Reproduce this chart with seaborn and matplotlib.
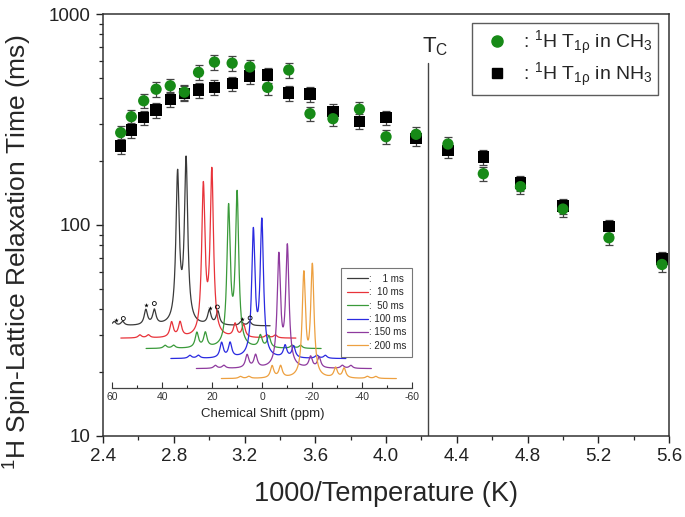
import numpy as np
import pandas as pd
import matplotlib
matplotlib.use("Agg")
import matplotlib.pyplot as plt
from matplotlib.ticker import MultipleLocator, FixedLocator, NullFormatter
from matplotlib.lines import Line2D
import seaborn as sns

# 1000/T (K^-1) for the measured temperatures
INV_T = [2.50, 2.56, 2.63, 2.70, 2.78, 2.86, 2.94, 3.03, 3.13, 3.23, 3.33, 3.45,
         3.57, 3.70, 3.85, 4.00, 4.17, 4.35, 4.55, 4.76, 5.00, 5.26, 5.56]

# 1H T1rho (ms)
T1_CH3 = [274, 326, 388, 440, 457, 426, 529, 592, 585, 561, 449, 543,
          337, 319, 354, 262, 269, 242, 175, 152, 119, 87, 65]
T1_NH3 = [237, 282, 323, 351, 394, 421, 436, 449, 467, 508, 514, 422,
          418, 346, 310, 322, 258, 225, 210, 158, 123, 98, 69]
REL_ERR = 0.08
TC = 4.24

# inset: 13C spectra at different contact times
SPEC_LABELS = ["1 ms", "10 ms", "50 ms", "100 ms", "150 ms", "200 ms"]
SPEC_COLORS = ["#3a3a3a", "#e8333a", "#3a9a3a", "#2a2ae0", "#8e3a9e", "#eda040"]
MAIN_PEAKS = [33.9, 30.5]            # ppm of the doublet in the 1 ms trace
SIDEBAND_STEP = 12.7                 # ppm
TRACE_SHIFT = [0.0, -10.3, -20.4, -30.3, -40.5, -50.5]
TRACE_BASE = [62.0, 49.7, 39.3, 29.3, 19.3, 9.3]
HEIGHT_L = [148, 148, 137, 124, 110, 102]
HEIGHT_R = [162, 163, 151, 134, 119, 110]
SB1_L = [15, 15, 15, 15, 13, 12]
SB1_R = [14, 13, 12, 12, 11, 10]
SB2 = [4, 3, 3, 3, 3, 2]
SPAN = (33.0, -37.0)                 # trace extent relative to the left main peak
WIDTH = 0.8                          # Lorentzian HWHM (ppm)


def build_spectra():
    rows = []
    for k, lab in enumerate(SPEC_LABELS):
        p1 = MAIN_PEAKS[0] + TRACE_SHIFT[k]
        p2 = MAIN_PEAKS[1] + TRACE_SHIFT[k]
        lo, hi = p1 + SPAN[1], min(p1 + SPAN[0], 60.0)
        ppm = np.linspace(hi, lo, 1600)
        peaks = [(p1, HEIGHT_L[k]), (p2, HEIGHT_R[k])]
        for sgn, h1 in ((1, SB1_L[k]), (-1, SB1_R[k])):
            peaks += [(p1 + sgn * SIDEBAND_STEP, h1), (p2 + sgn * SIDEBAND_STEP, h1 * 0.97)]
            peaks += [(p1 + sgn * 2 * SIDEBAND_STEP, SB2[k]), (p2 + sgn * 2 * SIDEBAND_STEP, SB2[k])]
        y = np.full_like(ppm, TRACE_BASE[k])
        for c, h in peaks:
            y += h / (1 + ((ppm - c) / WIDTH) ** 2)
        rows.append(pd.DataFrame({"ppm": ppm, "intensity": y, "trace": lab}))
    return pd.concat(rows, ignore_index=True)


sns.set_theme(style="ticks")
plt.rcParams["font.family"] = ["Liberation Sans", "DejaVu Sans"]
plt.rcParams["mathtext.fontset"] = "custom"
plt.rcParams["mathtext.rm"] = "Liberation Sans"
plt.rcParams["mathtext.it"] = "Liberation Sans:italic"
plt.rcParams["mathtext.default"] = "regular"

fig = plt.figure(figsize=(6.85, 5.17), dpi=100)
ax = fig.add_axes([0.1504, 0.1567, 0.8263, 0.8162])

df = pd.DataFrame({"x": INV_T * 2,
                   "T1": T1_NH3 + T1_CH3,
                   "site": ["NH3"] * len(INV_T) + ["CH3"] * len(INV_T)})

for vals in (T1_NH3, T1_CH3):
    v = np.array(vals, dtype=float)
    ax.errorbar(INV_T, v, yerr=v * REL_ERR, fmt="none", ecolor="#444444",
                elinewidth=0.9, capsize=3, capthick=0.9, zorder=2)

sns.scatterplot(data=df, x="x", y="T1", hue="site", style="site",
                markers={"NH3": "s", "CH3": "o"},
                palette={"NH3": "black", "CH3": "#178a17"},
                s=66, linewidth=0, legend=False, ax=ax, zorder=3)

ax.set_yscale("log")
ax.set_ylim(10, 1000)
ax.set_xlim(2.4, 5.6)
ax.xaxis.set_major_locator(MultipleLocator(0.4))
ax.xaxis.set_minor_locator(MultipleLocator(0.2))
ax.xaxis.set_major_formatter(plt.FuncFormatter(lambda v, p: f"{v:.1f}"))
ax.yaxis.set_major_locator(FixedLocator([10, 100, 1000]))
ax.yaxis.set_major_formatter(plt.FuncFormatter(lambda v, p: f"{v:.0f}"))
ax.yaxis.set_minor_formatter(NullFormatter())
ax.tick_params(which="major", direction="out", length=5, width=1, labelsize=13.5,
               colors="#222222", pad=4)
ax.tick_params(which="minor", direction="out", length=3, width=0.9)
for sp in ax.spines.values():
    sp.set_color("#333333")
    sp.set_linewidth(1.1)

ax.set_xlabel("1000/Temperature (K)", fontsize=19.5, labelpad=11)
ax.set_ylabel("$^{1}$H Spin-Lattice Relaxation Time (ms)", fontsize=19)
ax.yaxis.set_label_coords(-0.122, 0.436)

ax.axvline(TC, ymin=0, ymax=0.884, color="#444444", lw=1)
ax.text(TC - 0.035, 700, "T$_C$", fontsize=16, ha="left", va="center")

handles = [Line2D([], [], ls="none", marker="o", color="#178a17", ms=8),
           Line2D([], [], ls="none", marker="s", color="black", ms=7)]
labels = [": $^{1}$H T$_{1\\rho}$ in CH$_3$", ": $^{1}$H T$_{1\\rho}$ in NH$_3$"]
leg = ax.legend(handles, labels, loc="upper right", fontsize=14, frameon=True,
                fancybox=False, edgecolor="#333333", borderaxespad=0,
                handletextpad=0.3, labelspacing=0.2, borderpad=0.3,
                bbox_to_anchor=(0.981, 0.979))
leg.get_frame().set_linewidth(1.0)

# inset spectra
ins = fig.add_axes([0.164, 0.2495, 0.438, 0.4642], facecolor="none")
spec = build_spectra()
sns.lineplot(data=spec, x="ppm", y="intensity", hue="trace", hue_order=SPEC_LABELS,
             palette=SPEC_COLORS, sort=False, estimator=None, lw=0.9, ax=ins)
ins.set_xlim(60, -60)
ins.set_ylim(0, 240)
for side in ("top", "right", "left"):
    ins.spines[side].set_visible(False)
ins.spines["bottom"].set_color("#444444")
ins.spines["bottom"].set_linewidth(0.9)
ins.set_yticks([])
ins.set_ylabel("")
ins.xaxis.set_major_locator(MultipleLocator(20))
ins.xaxis.set_minor_locator(MultipleLocator(10))
ins.xaxis.set_major_formatter(plt.FuncFormatter(lambda v, p: f"{v:.0f}"))
ins.tick_params(axis="x", which="major", direction="in", length=4, width=0.8,
                labelsize=7.5, pad=3, colors="#333333")
ins.tick_params(axis="x", which="minor", direction="in", length=2.5, width=0.8)
ins.set_xlabel("Chemical Shift (ppm)", fontsize=9.5, labelpad=4)

# sideband markers on the 1 ms trace
star_ppm = [58.5, 46.6, 20.9, 8.3]
circ_ppm = [55.6, 43.2, 18.0, 4.9]
mark_y = [68.5, 83.5, 80.0, 69.0]
ins.scatter(star_ppm, mark_y, marker="*", s=12, color="black", lw=0, zorder=4)
ins.scatter(circ_ppm, [y + 1 for y in mark_y], marker="o", s=8, facecolor="none",
            edgecolor="black", lw=0.6, zorder=4)

sh = [Line2D([], [], color=c, lw=0.9) for c in SPEC_COLORS]
sl = [":    1 ms", ":  10 ms", ":  50 ms", ": 100 ms", ": 150 ms", ": 200 ms"]
ileg = ins.legend(sh, sl, loc="upper right", bbox_to_anchor=(1.0, 0.5),
                  borderaxespad=0, fontsize=7, frameon=True, fancybox=False,
                  edgecolor="#555555", handlelength=2.2, handletextpad=0.1,
                  labelspacing=0.35, borderpad=0.6)
ileg.get_frame().set_linewidth(0.8)

fig.savefig("out.png", dpi=100)
